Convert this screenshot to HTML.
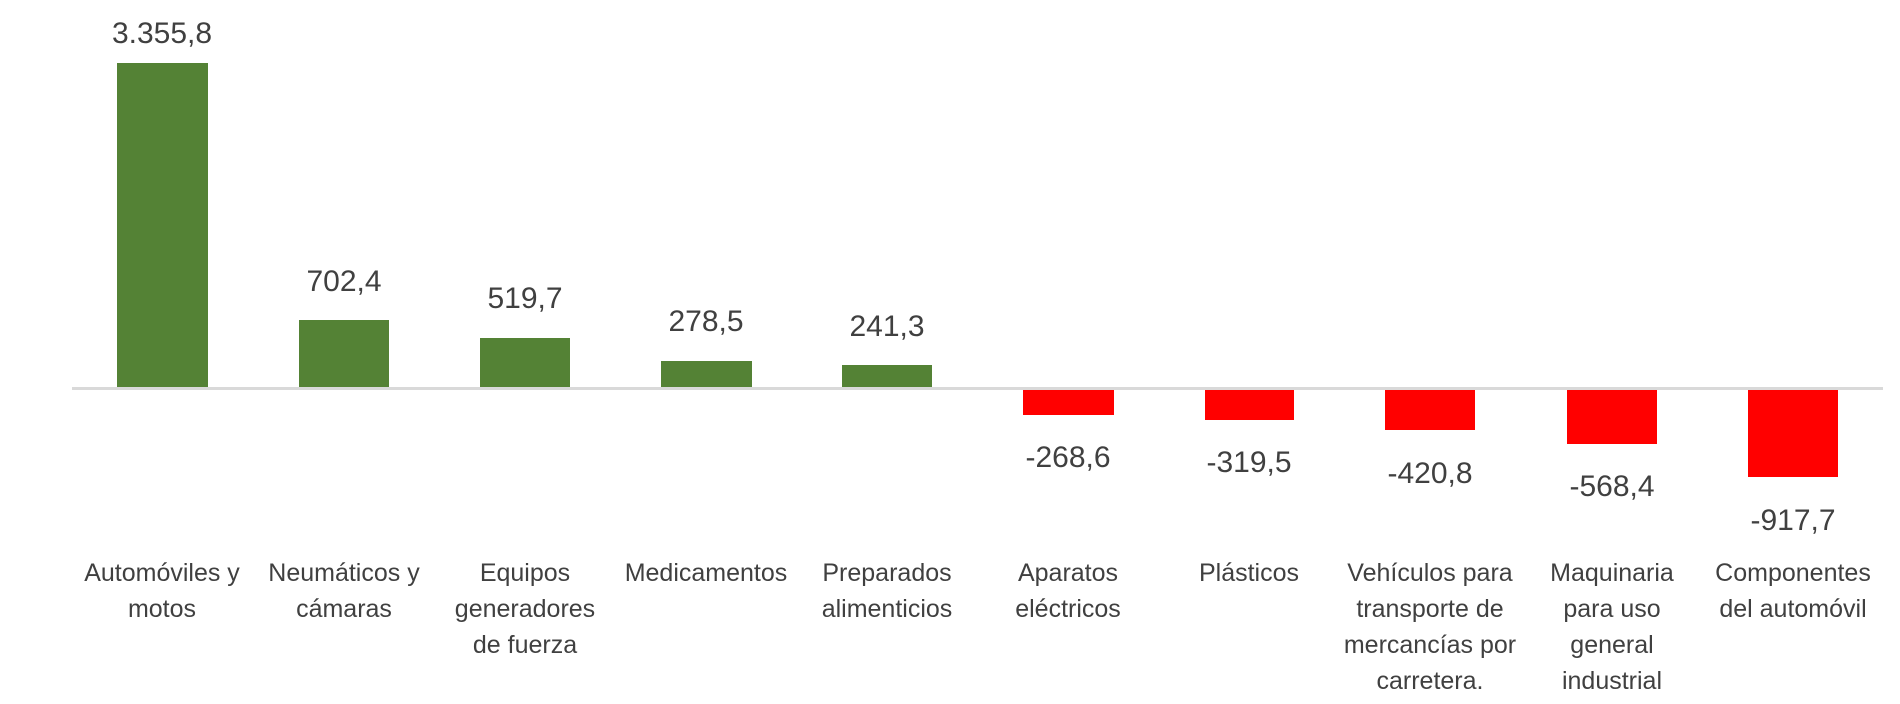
<!DOCTYPE html>
<html><head><meta charset="utf-8"><style>
html,body{margin:0;padding:0;background:#fff;}
svg{display:block;}
text{font-family:"Liberation Sans",sans-serif;fill:#404040;}
.v{font-size:30px;}
.c{font-size:25px;}
</style></head><body>
<svg width="1900" height="704" viewBox="0 0 1900 704" xmlns="http://www.w3.org/2000/svg">
<g fill="#548235">
<rect x="117" y="63" width="91" height="325"/>
<rect x="299" y="320" width="90" height="68"/>
<rect x="480" y="338" width="90" height="50"/>
<rect x="661" y="361" width="91" height="27"/>
<rect x="842" y="365" width="90" height="23"/>
</g>
<g fill="#ff0000">
<rect x="1023" y="389" width="91" height="26"/>
<rect x="1205" y="389" width="89" height="31"/>
<rect x="1385" y="389" width="90" height="41"/>
<rect x="1567" y="389" width="90" height="55"/>
<rect x="1748" y="389" width="90" height="88"/>
</g>
<line x1="72" y1="388.5" x2="1883" y2="388.5" stroke="#d9d9d9" stroke-width="3"/>
<g class="v" text-anchor="middle">
<text x="162" y="43">3.355,8</text>
<text x="344" y="291">702,4</text>
<text x="525" y="308">519,7</text>
<text x="706" y="331">278,5</text>
<text x="887" y="336">241,3</text>
<text x="1068" y="467">-268,6</text>
<text x="1249" y="472">-319,5</text>
<text x="1430" y="483">-420,8</text>
<text x="1612" y="496">-568,4</text>
<text x="1793" y="530">-917,7</text>
</g>
<g class="c" text-anchor="middle">
<text x="162" y="581">Automóviles y</text><text x="162" y="617">motos</text>
<text x="344" y="581">Neumáticos y</text><text x="344" y="617">cámaras</text>
<text x="525" y="581">Equipos</text><text x="525" y="617">generadores</text><text x="525" y="653">de fuerza</text>
<text x="706" y="581">Medicamentos</text>
<text x="887" y="581">Preparados</text><text x="887" y="617">alimenticios</text>
<text x="1068" y="581">Aparatos</text><text x="1068" y="617">eléctricos</text>
<text x="1249" y="581">Plásticos</text>
<text x="1430" y="581">Vehículos para</text><text x="1430" y="617">transporte de</text><text x="1430" y="653">mercancías por</text><text x="1430" y="689">carretera.</text>
<text x="1612" y="581">Maquinaria</text><text x="1612" y="617">para uso</text><text x="1612" y="653">general</text><text x="1612" y="689">industrial</text>
<text x="1793" y="581">Componentes</text><text x="1793" y="617">del automóvil</text>
</g>
</svg>
</body></html>
